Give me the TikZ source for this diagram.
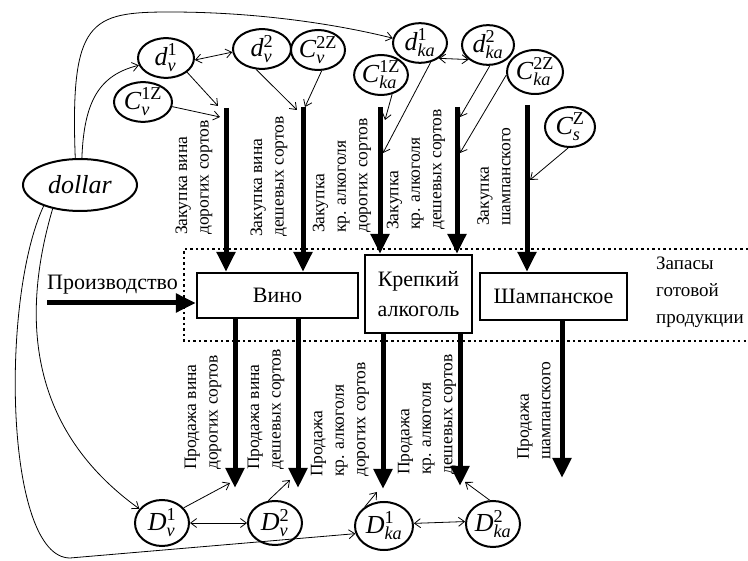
\documentclass[tikz,border=0pt]{standalone}
\usepackage{fix-cm}
\usepackage{fontspec}
\setmainfont{Liberation Serif}
\usetikzlibrary{shapes.geometric,arrows.meta}

\newcommand{\vv}[3]{$\mathit{#1}_{\mathit{#2}}^{\mathrm{#3}}$}

\tikzset{
  var/.style={ellipse, draw, line width=2pt, inner sep=0pt, fill=white,
              font=\fontsize{26}{28}\selectfont},
  box/.style={rectangle, draw, line width=2.2pt, fill=white, inner sep=0pt,
              align=center, font=\fontsize{22}{30}\selectfont},
  flow/.style={line width=5pt, -{Triangle[length=20pt,width=18pt]}},
  link/.style={line width=0.8pt, -{Straight Barb[length=6pt,width=9pt]}},
  dlink/.style={line width=0.8pt,
               {Straight Barb[length=6pt,width=9pt]}-{Straight Barb[length=6pt,width=9pt]}},
  lab/.style={rotate=90, anchor=west, align=left, inner sep=0pt,
              font=\fontsize{17.5}{21.5}\selectfont},
  zone/.style={line width=2.2pt, dash pattern=on 2.2pt off 3.3pt},
}

\begin{document}
\begin{tikzpicture}[x=1pt,y=-1pt]
\useasboundingbox (0,0) rectangle (748,561);

% stock zone (open on the right)
\draw[zone] (748,249) -| (184,341) -- (748,341);

% product boxes
\node[box, minimum width=161pt, minimum height=45pt] (vino) at (277.5,295.5) {Вино};
\node[box, minimum width=107pt, minimum height=78pt] (krep) at (418.5,294) {Крепкий\\алкоголь};
\node[box, minimum width=147pt, minimum height=47pt] (shamp) at (553.5,296.5) {Шампанское};

\node[anchor=west, align=left, inner sep=0pt, font=\fontsize{19}{27}\selectfont]
  (zapas) at (656,292) {Запасы\\готовой\\продукции};

% production inflow
\node[anchor=base west, inner sep=0pt, font=\fontsize{22}{26}\selectfont]
  (proizv) at (47,290) {Производство};
\coordinate (p0) at (47,303);
\draw[flow] (p0) -- (p0 -| vino.west);

% purchase flows (top)
\coordinate (t1) at (226,108);
\coordinate (t2) at (303,107);
\coordinate (t3) at (380,107);
\coordinate (t4) at (457,107);
\coordinate (t5) at (527,105);
\draw[flow] (t1) -- (t1 |- vino.north);
\draw[flow] (t2) -- (t2 |- vino.north);
\draw[flow] (t3) -- (t3 |- krep.north);
\draw[flow] (t4) -- (t4 |- krep.north);
\draw[flow] (t5) -- (t5 |- shamp.north);

% sales flows (bottom)
\coordinate (s1) at (235,488);
\coordinate (s2) at (298,488);
\coordinate (s3) at (383,489);
\coordinate (s4) at (460,486);
\coordinate (s5) at (562,478);
\draw[flow] (s1 |- vino.south) -- (s1);
\draw[flow] (s2 |- vino.south) -- (s2);
\draw[flow] (s3 |- krep.south) -- (s3);
\draw[flow] (s4 |- krep.south) -- (s4);
\draw[flow] (s5 |- shamp.south) -- (s5);

% flow labels
\node[lab] (l1) at (194,235) {Закупка вина\\дорогих сортов};
\node[lab] (l2) at (269,237) {Закупка вина\\дешевых сортов};
\node[lab] (l3) at (342,233) {Закупка\\кр. алкоголя\\дорогих сортов};
\node[lab] (l4) at (416,230) {Закупка\\кр. алкоголя\\дешевых сортов};
\node[lab] (l5) at (494,226) {Закупка\\шампанского};
\node[lab] (m1) at (203,470) {Продажа вина\\дорогих сортов};
\node[lab] (m2) at (266,470) {Продажа вина\\дешевых сортов};
\node[lab] (m3) at (340,477) {Продажа\\кр. алкоголя\\дорогих сортов};
\node[lab] (m4) at (427,475) {Продажа\\кр. алкоголя\\дешевых сортов};
\node[lab] (m5) at (534,460) {Продажа\\шампанского};

% variables
\node[var, minimum width=114pt, minimum height=52pt] (dollar) at (80,185) {\itshape dollar};
\node[var, minimum width=56pt, minimum height=38pt] (dv1) at (166,58) {\vv{d}{v}{1}};
\node[var, minimum width=58pt, minimum height=34pt] (Cv1) at (143,102) {\vv{C}{v}{1Z}};
\node[var, minimum width=58pt, minimum height=36pt] (dv2) at (262,49) {\vv{d}{v}{2}};
\node[var, minimum width=54pt, minimum height=40pt] (Cv2) at (318,50) {\vv{C}{v}{2Z}};
\node[var, minimum width=52pt, minimum height=40pt] (Cka1) at (381,75) {\vv{C}{ka}{1Z}};
\node[var, minimum width=54pt, minimum height=38pt] (dka1) at (420,43) {\vv{d}{ka}{1}};
\node[var, minimum width=52pt, minimum height=38pt] (dka2) at (488,45) {\vv{d}{ka}{2}};
\node[var, minimum width=56pt, minimum height=44pt] (Cka2) at (535,72) {\vv{C}{ka}{2Z}};
\node[var, minimum width=50pt, minimum height=40pt] (Cs) at (570,127) {\vv{C}{s}{Z}};
\node[var, minimum width=54pt, minimum height=46pt] (Dv1) at (162,523) {\vv{D}{v}{1}};
\node[var, minimum width=54pt, minimum height=44pt] (Dv2) at (275,523) {\vv{D}{v}{2}};
\node[var, minimum width=58pt, minimum height=48pt] (Dka1) at (384,526) {\vv{D}{ka}{1}};
\node[var, minimum width=54pt, minimum height=46pt] (Dka2) at (493,524) {\vv{D}{ka}{2}};

% points where the influences meet the flows
\coordinate (c1a) at (218,106);
\coordinate (c1b) at (220,117);
\coordinate (c2a) at (297,110);
\coordinate (c2b) at (305,107);
\coordinate (c3a) at (385,120);
\coordinate (c3b) at (383,153);
\coordinate (c4a) at (460,117);
\coordinate (c4b) at (460,153);
\coordinate (c5) at (530,180);
\coordinate (r1) at (230,483);
\coordinate (r2) at (290,480);
\coordinate (r3) at (377,492);
\coordinate (r4) at (465,482);

% influences on purchases
\draw[link] (dv1.-34) -- (c1a);
\draw[link] (Cv1.-9) -- (c1b);
\draw[link] (dv2.-106) -- (c2a);
\draw[link] (Cv2.-80) -- (c2b);
\draw[link] (Cka1.-60) -- (c3a);
\draw[link] (dka1.-61) -- (c3b);
\draw[link] (dka2.-85) -- (c4a);
\draw[link] (Cka2.-174) -- (c4b);
\draw[link] (Cs.-95) -- (c5);
\draw[dlink] (dv1.-4) -- (dv2.-174);
\draw[dlink] (dka1.-39) -- (dka2.-143);

% influences on sales
\draw[link] (Dv1.35) -- (r1);
\draw[link] (Dv2.107) -- (r2);
\draw[link] (Dka1.135) -- (r3);
\draw[link] (Dka2.98) -- (r4);
\draw[dlink] (Dv1.0) -- (Dv2.180);
\draw[dlink] (Dka1.5) -- (Dka2.175);

% exchange rate links
\draw[link] (dollar.86) .. controls (84,100) and (100,75) .. (dv1.-165);
\draw[link] (dollar.100) .. controls (70,20) and (90,12) .. (170,12)
            .. controls (260,12) and (340,25) .. (dka1.170);
\draw[link] (dollar.-139) .. controls (20,320) and (30,430) .. (Dv1.148);
\draw[link] (dollar.-150) .. controls (0,300) and (5,558) .. (70,558) -- (Dka1.-165);
\end{tikzpicture}
\end{document}
